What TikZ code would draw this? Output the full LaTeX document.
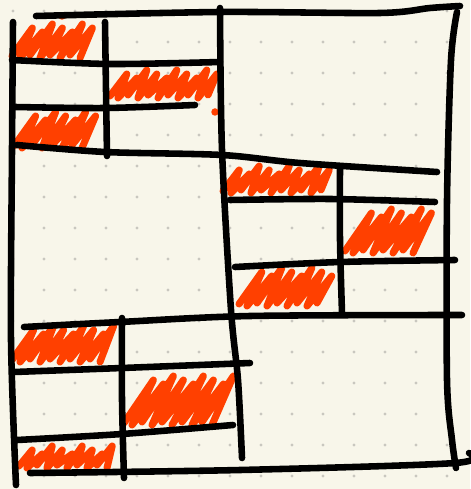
\documentclass[tikz,border=0pt]{standalone}
\usepackage{xcolor}
\usepackage{tikz}
\definecolor{paper}{HTML}{F8F6EA}
\definecolor{dotgray}{HTML}{C9C7BF}
\definecolor{scrawl}{HTML}{FF4000}

\begin{document}
\begin{tikzpicture}[
  x=0.03cm,y=-0.03cm,
  ink/.style={line width=5.6pt,line cap=round,line join=round},
  scrib/.style={draw=scrawl,line width=6pt,line cap=round,line join=round}
]
  \fill[paper] (0,0) rectangle (470,489);
  \useasboundingbox (0,0) rectangle (470,489);
  \foreach \i in {0,...,14}
    \foreach \j in {0,...,15}
      \fill[dotgray] (13+31*\i,11+31*\j) circle (1.4pt);

  % hatched cells
  \foreach \xa/\ya/\xb/\yb in {12/24/98/58, 110/70/220/98, 14/112/102/148,
      223/166/332/193, 345/209/436/253, 239/268/336/306,
      12/326/118/362, 124/376/234/425, 19/446/120/468}{
    \pgfmathsetmacro\hh{\yb-\ya}
    \pgfmathsetmacro\sl{0.6*\hh}
    \pgfmathtruncatemacro\nn{(\xb-\xa-\sl)/10+1}
    \draw[scrib] (\xa,\yb-2) \foreach \k [evaluate=\k as \dt using {4*mod(\k,3)},
        evaluate=\k as \db using {3*mod(\k+1,2)}] in {1,...,\nn}{
      -- ({\xa+(\k-1)*10+\sl},{\ya+\dt}) -- ({\xa+\k*10-2},{\yb-\db}) };
  }
  \fill[scrawl] (62,16) circle (3.2pt);
  \fill[scrawl] (215,112) circle (3.2pt);

  % outer frame
  \draw[ink] plot[smooth] coordinates {(36,16) (220,12) (380,13) (430,8) (460,6)};
  \draw[ink] plot[smooth] coordinates {(457,12) (451,60) (447,200) (447,380) (452,440) (456,468)};
  \draw[ink] plot[smooth] coordinates {(30,473) (240,470) (455,463) (469,453)};
  \draw[ink] plot[smooth] coordinates {(13,22) (12,150) (11,340) (16,485)};

  % main dividers
  \draw[ink] plot[smooth] coordinates {(220,8) (222,150) (231,310) (238,380) (242,458)};
  \draw[ink] plot[smooth] coordinates {(17,145) (105,152) (222,155) (300,163) (437,172)};
  \draw[ink] plot[smooth] coordinates {(24,327) (120,322) (250,316) (462,315)};

  % top left
  \draw[ink] plot[smooth] coordinates {(105,22) (106,90) (107,156)};
  \draw[ink] plot[smooth] coordinates {(12,60) (110,64) (220,62)};
  \draw[ink] plot[smooth] coordinates {(15,107) (105,108) (195,105)};

  % middle right
  \draw[ink] plot[smooth] coordinates {(340,167) (340,240) (342,313)};
  \draw[ink] plot[smooth] coordinates {(230,200) (330,199) (435,202)};
  \draw[ink] plot[smooth] coordinates {(235,267) (340,262) (455,260)};

  % bottom left
  \draw[ink] plot[smooth] coordinates {(122,318) (122,400) (124,478)};
  \draw[ink] plot[smooth] coordinates {(14,372) (122,368) (250,363)};
  \draw[ink] plot[smooth] coordinates {(17,440) (122,434) (233,425)};
\end{tikzpicture}
\end{document}
